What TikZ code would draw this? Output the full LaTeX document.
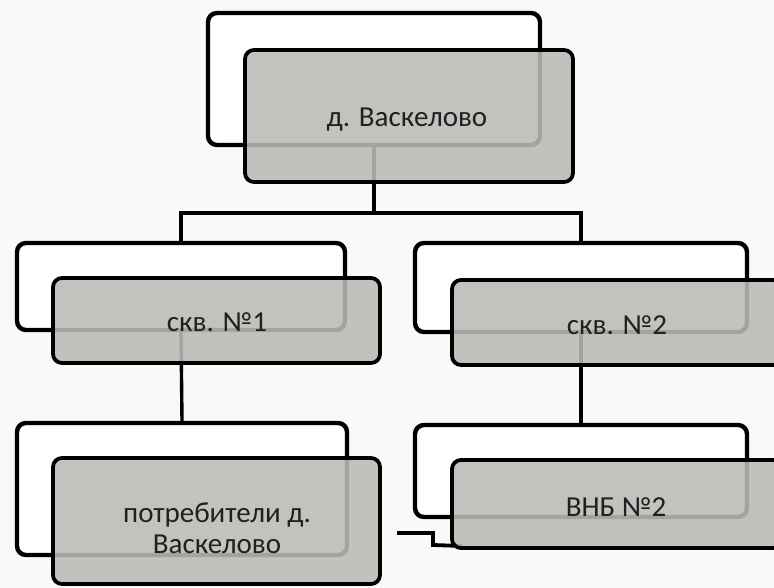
\documentclass[tikz,border=0pt]{standalone}
\usepackage{fontspec}
\setmainfont{Carlito}
\definecolor{bgc}{RGB}{249,249,247}
\definecolor{boxgray}{RGB}{186,186,182}
\definecolor{txt}{RGB}{32,32,32}
\begin{document}
\begin{tikzpicture}[x=1pt,y=-1pt,
  backbox/.style={draw=black, line width=4.4pt, rounded corners=9pt, fill=white, inner sep=0pt},
  frontbox/.style={draw=black, line width=3.8pt, rounded corners=9pt, fill=boxgray, fill opacity=0.88, inner sep=0pt},
  label/.style={inner sep=0pt, text=txt, font=\fontsize{29}{31}\selectfont, align=center},
  oneline/.style={label, text height=18.7pt, text depth=0pt},
  conn/.style={draw=black, line width=3.4pt}]
\path[use as bounding box, clip] (0,0) rectangle (774,588);
\fill[bgc] (0,0) rectangle (774,588);
% back boxes
\node[backbox, minimum width=332pt, minimum height=132pt] (Tb) at (374,79) {};
\node[backbox, minimum width=328pt, minimum height=87pt] (Lb) at (181,286.5) {};
\node[backbox, minimum width=332pt, minimum height=89pt] (Rb) at (581,287.5) {};
\node[backbox, minimum width=330pt, minimum height=132pt] (LLb) at (182,489) {};
\node[backbox, minimum width=332pt, minimum height=92pt] (RRb) at (581,471) {};
% connectors
\coordinate (fork) at (374,213);
\draw[conn] (Tb.south) -- (fork);
\draw[conn] (fork) -| (Lb.north);
\draw[conn] (fork) -| (Rb.north);
\draw[conn] (Lb.south) -- (LLb.north);
\draw[conn] (Rb.south) -- (RRb.north);
\coordinate (s1) at (397,533);
\coordinate (s2) at (433,545);
\coordinate (s3) at (462,546);
\draw[conn, line width=3.8pt] (s1) -| (s2) -- (s3);
% front boxes
\node[frontbox, minimum width=328pt, minimum height=132pt] (Tf) at (409,116) {};
\node[frontbox, minimum width=327pt, minimum height=85pt] (Lf) at (216.5,320.5) {};
\node[frontbox, minimum width=330pt, minimum height=85pt] (Rf) at (617,322.5) {};
\node[frontbox, minimum width=327pt, minimum height=126pt] (LLf) at (216.5,521) {};
\node[frontbox, minimum width=330pt, minimum height=88pt] (RRf) at (617,504) {};
% texts
\node[oneline] (Tt) at (407,117) {д. Васкелово};
\node[oneline] (Lt) at (217,322.5) {скв. №1};
\node[oneline] (Rt) at (617,325.5) {скв. №2};
\node[label] (LLt) at (217,528) {потребители д.\\Васкелово};
\node[oneline] (RRt) at (616,507.5) {ВНБ №2};
\end{tikzpicture}
\end{document}
